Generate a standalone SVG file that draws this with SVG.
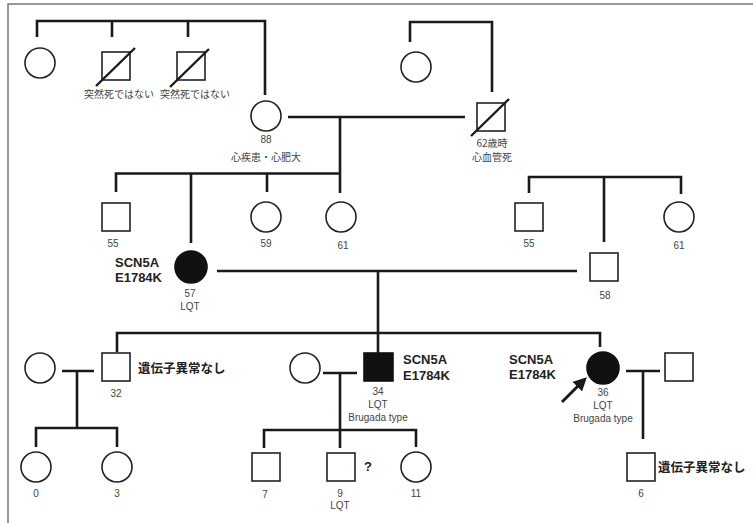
<svg xmlns="http://www.w3.org/2000/svg" width="753" height="523" viewBox="0 0 753 523">
<style>
.sym{fill:#fff;stroke:#222;stroke-width:1.6}
.aff{fill:#111;stroke:#111;stroke-width:1.6}
.con{fill:none;stroke:#1a1a1a;stroke-width:2.6;stroke-linecap:butt}
.slash{stroke:#1a1a1a;stroke-width:2.4}
.lbl{font-family:"Liberation Sans","Noto Sans CJK JP",sans-serif;font-size:10px;fill:#444;text-anchor:middle}
.jp{font-family:"Noto Sans CJK JP","Liberation Sans",sans-serif;font-size:10px;fill:#444;text-anchor:middle}
.gene{font-family:"Liberation Sans",sans-serif;font-size:13px;font-weight:bold;fill:#222}
.jpb{font-family:"Noto Sans CJK JP",sans-serif;font-size:12.5px;font-weight:bold;fill:#222}
</style>
<defs>
<marker id="ah" viewBox="0 0 10 10" refX="7" refY="5" markerWidth="4.5" markerHeight="4.5" orient="auto"><path d="M0,0 L10,5 L0,10 z" fill="#1a1a1a"/></marker>
</defs>
<g id="frame" stroke="#777" stroke-width="1.5" fill="none"><path d="M753,4 H8 V523"/></g>

<g id="connectors" class="con">
<path d="M37,37 V21 H265 V95 M112,21 V37 M188,21 V37"/>
<path d="M410,42 V22 H492 V92"/>
<path d="M288,117 H465 M340,117 V193"/>
<path d="M116,192 V173.5 H340 M191,173.5 V243 M267,173.5 V192"/>
<path d="M529,193 V177 H681 V194 M604,177 V242"/>
<path d="M217,271 H577 M378,271 V353"/>
<path d="M117,352 V333 H600 V347"/>
<path d="M62,371 H94 M77,371 V428 M36,447 V428 H117 V447"/>
<path d="M323,373 H357 M340,373 V448 M264,448 V430 H416 V447"/>
<path d="M626,371 H660 M643,371 V439"/>
</g>

<g id="g1-f1"><circle class="sym" cx="40" cy="63" r="15"/></g>
<g id="g1-m1"><rect class="sym" x="102" y="52" width="28" height="28"/><line class="slash" x1="96" y1="86" x2="135" y2="48"/><text class="jp" x="119" y="98">突然死ではない</text></g>
<g id="g1-m2"><rect class="sym" x="177" y="52" width="28" height="28"/><line class="slash" x1="170" y1="87" x2="209" y2="49"/><text class="jp" x="195" y="98">突然死ではない</text></g>
<g id="g1-f2"><circle class="sym" cx="416" cy="67" r="15"/></g>

<g id="g2-88"><circle class="sym" cx="266" cy="116" r="15"/><text class="lbl" x="266" y="143">88</text><text class="jp" x="266" y="161">心疾患・心肥大</text></g>
<g id="g2-62"><rect class="sym" x="477" y="103" width="28" height="28"/><line class="slash" x1="471" y1="136" x2="509" y2="99"/><text class="jp" x="492" y="147">62歳時</text><text class="jp" x="492" y="161">心血管死</text></g>

<g id="g3-55a"><rect class="sym" x="102" y="203" width="28" height="28"/><text class="lbl" x="113" y="247">55</text></g>
<g id="g3-59"><circle class="sym" cx="266" cy="217" r="15"/><text class="lbl" x="266" y="247">59</text></g>
<g id="g3-61a"><circle class="sym" cx="341" cy="217" r="15"/><text class="lbl" x="343" y="249">61</text></g>
<g id="g3-57"><circle class="aff" cx="191" cy="267" r="16"/><text class="gene" x="115" y="267">SCN5A</text><text class="gene" x="115" y="282">E1784K</text><text class="lbl" x="190" y="297">57</text><text class="lbl" x="190" y="310">LQT</text></g>
<g id="g3-55b"><rect class="sym" x="515" y="203" width="28" height="28"/><text class="lbl" x="529" y="247">55</text></g>
<g id="g3-61b"><circle class="sym" cx="679" cy="217" r="15"/><text class="lbl" x="679" y="249">61</text></g>
<g id="g3-58"><rect class="sym" x="590" y="253" width="28" height="28"/><text class="lbl" x="605" y="299">58</text></g>

<g id="g4-wife32"><circle class="sym" cx="40" cy="368" r="15"/></g>
<g id="g4-32"><rect class="sym" x="102" y="353" width="28" height="28"/><text class="lbl" x="116" y="397">32</text><text class="jpb" x="138" y="372.5">遺伝子異常なし</text></g>
<g id="g4-wife34"><circle class="sym" cx="305" cy="368" r="15"/></g>
<g id="g4-34"><rect class="aff" x="364" y="353" width="29" height="28"/><text class="gene" x="403" y="364">SCN5A</text><text class="gene" x="403" y="380">E1784K</text><text class="lbl" x="378" y="395">34</text><text class="lbl" x="378" y="408">LQT</text><text class="lbl" x="378" y="421">Brugada type</text></g>
<g id="g4-36"><circle class="aff" cx="603" cy="368" r="16"/><text class="gene" x="509" y="364">SCN5A</text><text class="gene" x="509" y="379">E1784K</text><text class="lbl" x="603" y="396">36</text><text class="lbl" x="603" y="409">LQT</text><text class="lbl" x="603" y="422">Brugada type</text>
<line x1="562" y1="402" x2="584" y2="380" stroke="#1a1a1a" stroke-width="3" marker-end="url(#ah)"/></g>
<g id="g4-husband36"><rect class="sym" x="665" y="353" width="28" height="28"/></g>

<g id="g5-0"><circle class="sym" cx="36" cy="467" r="15"/><text class="lbl" x="36" y="497">0</text></g>
<g id="g5-3"><circle class="sym" cx="117" cy="467" r="15"/><text class="lbl" x="117" y="497">3</text></g>
<g id="g5-7"><rect class="sym" x="252" y="453" width="28" height="28"/><text class="lbl" x="265" y="498">7</text></g>
<g id="g5-9"><rect class="sym" x="327" y="453" width="28" height="28"/><text class="gene" x="364" y="471" font-size="12">?</text><text class="lbl" x="340" y="497">9</text><text class="lbl" x="340" y="509">LQT</text></g>
<g id="g5-11"><circle class="sym" cx="416" cy="467" r="15"/><text class="lbl" x="416" y="497">11</text></g>
<g id="g5-6"><rect class="sym" x="627" y="453" width="28" height="28"/><text class="lbl" x="641" y="497">6</text><text class="jpb" x="658" y="471.5">遺伝子異常なし</text></g>
</svg>
